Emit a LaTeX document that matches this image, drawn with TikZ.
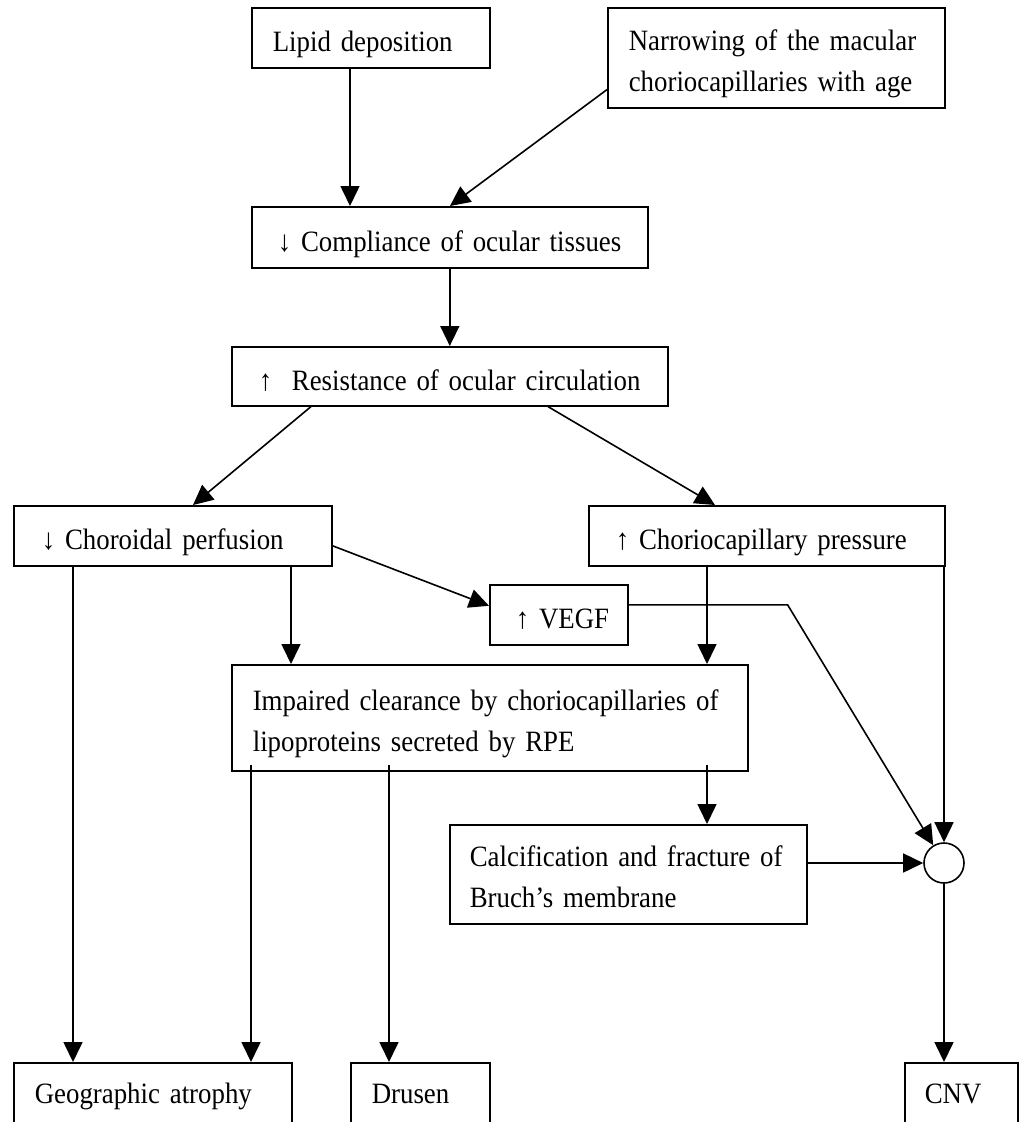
\documentclass[tikz,border=0pt]{standalone}
\usepackage{fontspec}
\setmainfont{Liberation Serif}[FakeStretch=0.91, WordSpace=0.7]
\usetikzlibrary{arrows.meta}
\newcommand{\dnar}{↓}
\newcommand{\upar}{↑}
\begin{document}
\begin{tikzpicture}[x=1pt,y=-1pt,
  font=\fontsize{29.5pt}{41pt}\selectfont,
  bx/.style={draw, line width=1.6pt, rectangle, anchor=north west, inner xsep=21pt, inner ysep=0pt,
    align=left, text height=28pt, text depth=0pt},
  two/.style={text height=28pt, text depth=43pt},
  bot/.style={minimum height=80pt, text depth=26pt},
  arr/.style={line width=1.6pt, -{Triangle[length=20pt,width=19pt]}},
  junction/.style={draw, line width=1.6pt, circle, minimum size=40pt, inner sep=0pt}]
\useasboundingbox (0,0) rectangle (1022,1122);
\clip (0,0) rectangle (1022,1122);
\fill[white] (0,0) rectangle (1022,1122);
% boxes
\node[bx, minimum width=238pt, minimum height=60pt, text width=196pt] (lipid) at (251,7) {\mbox{Lipid deposition}};
\node[bx, two, minimum width=337pt, minimum height=100pt, text width=295pt] (narrow) at (607,7)
  {\makebox[297pt][s]{Narrowing of the macular}\\\mbox{choriocapillaries with age}};
\node[bx, minimum width=396pt, minimum height=61pt, text width=354pt] (comp) at (251,206)
  {\mbox{\hspace*{5pt}\dnar\ Compliance of ocular tissues}};
\node[bx, minimum width=436pt, minimum height=59pt, text width=394pt] (res) at (231,346)
  {\mbox{\hspace*{6pt}\upar\ \ Resistance of ocular circulation}};
\node[bx, minimum width=318pt, minimum height=60pt, text width=276pt] (chor) at (13,505)
  {\mbox{\hspace*{7pt}\dnar\ Choroidal perfusion}};
\node[bx, minimum width=356pt, minimum height=60pt, text width=314pt] (press) at (588,505)
  {\mbox{\hspace*{6pt}\upar\ Choriocapillary pressure}};
\node[bx, minimum width=138pt, minimum height=60pt, inner xsep=10pt, text width=118pt] (vegf) at (489,584)
  {\mbox{\hspace*{16pt}\upar\ VEGF}};
\node[bx, two, minimum width=516pt, minimum height=106pt, text width=474pt] (imp) at (231,664)
  {\makebox[475pt][s]{Impaired clearance by choriocapillaries of}\\\mbox{lipoproteins secreted by RPE}};
\node[bx, two, minimum width=357pt, minimum height=99pt, text width=317pt, inner xsep=20pt] (calc) at (449,824)
  {\makebox[317pt][s]{Calcification and fracture of}\\\mbox{Bruch’s membrane}};
\node[junction] (junc) at (944,863) {};
\node[bx, bot, minimum width=278pt, text width=236pt] (geo) at (13,1062) {\mbox{Geographic atrophy}};
\node[bx, bot, minimum width=139pt, text width=97pt] (drusen) at (350,1062) {Drusen};
\node[bx, bot, minimum width=113pt, text width=73pt, inner xsep=20pt] (cnv) at (904,1062) {CNV};
% connectors
\coordinate (a1) at ([xshift=99pt]lipid.south west);
\draw[arr] (a1) -- (a1 |- comp.north);
\draw[arr] ([yshift=19pt]narrow.south west) -- ([xshift=199pt]comp.north west);
\draw[arr] (comp.south) -- (res.north);
\draw[arr] ([xshift=80pt]res.south west) -- ([xshift=180pt]chor.north west);
\draw[arr] ([xshift=317pt]res.south west) -- ([xshift=127pt]press.north west);
\draw[arr] ([yshift=-10pt]chor.east) -- ([yshift=9pt]vegf.west);
\coordinate (c1) at ([xshift=60pt]chor.south west);
\coordinate (c2) at ([xshift=278pt]chor.south west);
\draw[arr] (c1) -- (c1 |- geo.north);
\draw[arr] (c2) -- (c2 |- imp.north);
\coordinate (p1) at ([xshift=119pt]press.south west);
\draw[arr] (p1) -- (p1 |- imp.north);
\draw[arr] (junc.north |- press.south) -- (junc.north);
\draw[arr] ([yshift=10pt]vegf.east) -- ([yshift=10pt,xshift=159pt]vegf.east) -- (junc);
\coordinate (i1) at ([xshift=20pt,yshift=7pt]imp.south west);
\coordinate (i2) at ([xshift=158pt,yshift=7pt]imp.south west);
\coordinate (i3) at ([xshift=476pt,yshift=7pt]imp.south west);
\draw[arr] (i1) -- (i1 |- geo.north);
\draw[arr] (i2) -- (i2 |- drusen.north);
\draw[arr] (i3) -- (i3 |- calc.north);
\draw[arr] (calc.east |- junc.west) -- (junc.west);
\draw[arr] (junc.south) -- (junc.south |- cnv.north);
\end{tikzpicture}
\end{document}
